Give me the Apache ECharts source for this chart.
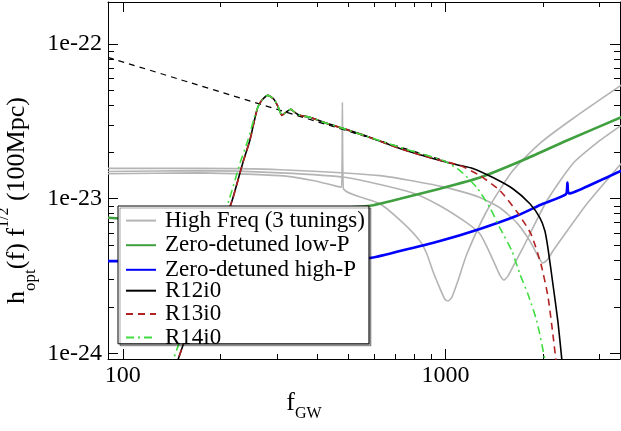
<!DOCTYPE html>
<html><head><meta charset="utf-8">
<script src="https://cdn.jsdelivr.net/npm/echarts@6/dist/echarts.min.js"></script>
<style>html,body{margin:0;padding:0;background:#fff}#c{width:621px;height:431px}</style>
</head><body><div id="c"></div>
<script>
// ---- axis ticks / labels ----
const xMajorTicks = [100, 1000];
const xTickLabels = ['100', '1000'];
const xMinorTicks = [200, 300, 400, 500, 600, 700, 800, 900, 2000, 3000];
const yMajorTicks = [1e-22, 1e-23, 1e-24];
const yTickLabels = ['1e-22', '1e-23', '1e-24'];
const yMinorTicks = [2e-24, 3e-24, 4e-24, 5e-24, 6e-24, 7e-24, 8e-24, 9e-24,
                     2e-23, 3e-23, 4e-23, 5e-23, 6e-23, 7e-23, 8e-23, 9e-23];
const X_MIN = 90, X_MAX = 3470;
const Y_MIN = 9.2e-25, Y_MAX = 1.87e-22;

// ---- series data: [f_GW (Hz), h_opt f^1/2] ----
const hfTuning1 = [[90,1.45e-23],[173,1.47e-23],[307,1.41e-23],[388,1.31e-23],[476,1.185e-23],[479,4.2e-23],[482,1.175e-23],[626,9.28e-24],[738,6.98e-24],[833,5.33e-24],[875,4.39e-24],[913,3.41e-24],[960,2.64e-24],[995,2.24e-24],[1017,2.18e-24],[1046,2.31e-24],[1092,2.94e-24],[1164,4.39e-24],[1343,8.36e-24],[1616,1.52e-23],[1960,2.28e-23],[2481,3.30e-23],[3500,5.42e-23]];
const hfTuning2 = [[90,1.50e-23],[173,1.52e-23],[307,1.47e-23],[494,1.37e-23],[792,1.09e-23],[960,9.01e-24],[1164,6.98e-24],[1277,5.93e-24],[1343,4.88e-24],[1421,3.78e-24],[1473,3.21e-24],[1516,2.98e-24],[1560,3.16e-24],[1639,3.84e-24],[1736,4.81e-24],[2060,9.70e-24],[2481,1.69e-23],[3008,2.38e-23],[3500,2.98e-23]];
const hfTuning3 = [[90,1.57e-23],[173,1.57e-23],[307,1.54e-23],[626,1.41e-23],[1009,1.18e-23],[1277,1.02e-23],[1473,8.74e-24],[1663,6.98e-24],[1825,5.33e-24],[1932,4.26e-24],[2002,3.84e-24],[2075,4.08e-24],[2150,4.59e-24],[2261,5.33e-24],[2741,9.28e-24],[3500,1.69e-23]];
const lowP = [[90,7.53e-24],[121,7.31e-24],[173,7.31e-24],[247,7.64e-24],[354,8.23e-24],[480,8.74e-24],[583,9.01e-24],[722,1.0e-23],[960,1.16e-23],[1277,1.37e-23],[1786,1.82e-23],[2376,2.38e-23],[3500,3.36e-23]];
const highP = [[90,3.95e-24],[173,3.95e-24],[354,4.02e-24],[583,4.14e-24],[722,4.59e-24],[960,5.33e-24],[1277,6.38e-24],[1663,7.76e-24],[2002,9.28e-24],[2359,1.07e-23],[2385,1.27e-23],[2411,1.08e-23],[2861,1.25e-23],[3500,1.52e-23]];
const powerLaw = [[90,8.2e-23],[1000,1.75e-23]];
const r12i0 = [[134,4.9e-25],[148,9.0e-25],[180,2.94e-24],[219,1.0e-23],[235.5,1.71e-23],[247.5,2.38e-23],[256.5,3.30e-23],[262,3.90e-23],[269.7,4.33e-23],[281.5,4.66e-23],[293.8,4.40e-23],[302.3,3.96e-23],[311.1,3.46e-23],[320.1,3.62e-23],[331.7,3.79e-23],[341.2,3.62e-23],[353.7,3.46e-23],[379.7,3.36e-23],[428.7,3.07e-23],[480.5,2.85e-23],[570.3,2.53e-23],[722,2.11e-23],[913,1.82e-23],[1084,1.66e-23],[1215,1.57e-23],[1402,1.37e-23],[1616,1.16e-23],[1825,9.28e-24],[1960,7.53e-24],[2031,6.19e-24],[2075,4.81e-24],[2150,2.81e-24],[2228,1.61e-24],[2293,9.0e-25],[2359,4.9e-25]];
const r13i0 = [[134,4.9e-25],[148,9.0e-25],[180,2.94e-24],[219,1.0e-23],[235.5,1.71e-23],[247.5,2.38e-23],[256.5,3.30e-23],[262,3.90e-23],[269.7,4.33e-23],[281.5,4.66e-23],[293.8,4.40e-23],[302.3,3.96e-23],[311.1,3.46e-23],[320.1,3.62e-23],[331.7,3.79e-23],[341.2,3.62e-23],[353.7,3.46e-23],[379.7,3.36e-23],[428.7,3.07e-23],[480.5,2.85e-23],[570.3,2.53e-23],[722,2.11e-23],[913,1.82e-23],[1108,1.64e-23],[1277,1.41e-23],[1473,1.13e-23],[1663,8.23e-24],[1838,5.93e-24],[1974,3.78e-24],[2075,2.34e-24],[2150,1.33e-24],[2197,9.0e-25],[2261,4.9e-25]];
const r14i0 = [[129,4.9e-25],[143,9.0e-25],[175,2.94e-24],[214,1.0e-23],[231,1.71e-23],[244,2.38e-23],[255,3.30e-23],[262,3.90e-23],[269.7,4.33e-23],[281.5,4.66e-23],[293.8,4.40e-23],[302.3,3.96e-23],[311.1,3.46e-23],[320.1,3.62e-23],[331.7,3.79e-23],[341.2,3.62e-23],[353.7,3.46e-23],[379.7,3.36e-23],[428.7,3.07e-23],[480.5,2.85e-23],[570.3,2.53e-23],[722,2.15e-23],[815,1.99e-23],[981,1.77e-23],[1108,1.52e-23],[1250,1.18e-23],[1372,8.74e-24],[1473,6.48e-24],[1605,4.59e-24],[1699,3.26e-24],[1799,2.42e-24],[1918,1.61e-24],[2031,9.0e-25],[2105,4.9e-25]];

const FONT = 'Liberation Serif';
// the y axis works in units of 1e-24 (strain values are too small for tick handling)
const H_UNIT = 1e-24;
const toUnit = v => v / H_UNIT;
const toAxis = data => data.map(p => [p[0], p[1] / H_UNIT]);

function labelFor(ticks, labels, conv) {
  return function (v) {
    for (let i = 0; i < ticks.length; i++) {
      if (Math.abs(Math.log10(conv(ticks[i])) - Math.log10(v)) < 1e-6) return labels[i];
    }
    return '';
  };
}

function xAx(pos, major, withLabels) {
  const a = {
    type: 'log', logBase: 10, min: X_MIN, max: X_MAX, position: pos,
    axisLine: { show: major, onZero: false, lineStyle: { color: '#000', width: 1 } },
    axisTick: { show: true, inside: true, length: major ? 10 : 5,
      customValues: major ? xMajorTicks : xMinorTicks, lineStyle: { color: '#000', width: 1 } },
    axisLabel: { show: false },
    splitLine: { show: false }, minorTick: { show: false }, minorSplitLine: { show: false }
  };
  if (withLabels) {
    a.axisLabel = { show: true, customValues: xMajorTicks, formatter: labelFor(xMajorTicks, xTickLabels, v => v),
      fontFamily: FONT, fontSize: 24, color: '#000', margin: 5 };
    a.name = '{b|f}{s|GW}';
    a.nameLocation = 'middle';
    a.nameGap = 31;
    a.nameMoveOverlap = false;
    a.nameTextStyle = {
      rich: {
        b: { fontFamily: FONT, fontSize: 26, color: '#000', lineHeight: 24, verticalAlign: 'top' },
        s: { fontFamily: FONT, fontSize: 16, color: '#000', lineHeight: 16, verticalAlign: 'top', padding: [16, 120, 0, 0] }
      }
    };
  }
  return a;
}
function yAx(pos, major, withLabels) {
  const a = {
    type: 'log', logBase: 10, min: toUnit(Y_MIN), max: toUnit(Y_MAX), position: pos,
    axisLine: { show: major, onZero: false, lineStyle: { color: '#000', width: 1 } },
    axisTick: { show: true, inside: true, length: major ? 10 : 6,
      customValues: (major ? yMajorTicks : yMinorTicks).map(toUnit), lineStyle: { color: '#000', width: 1 } },
    axisLabel: { show: false },
    splitLine: { show: false }, minorTick: { show: false }, minorSplitLine: { show: false }
  };
  if (withLabels) {
    a.axisLabel = { show: true, customValues: yMajorTicks.map(toUnit), formatter: labelFor(yMajorTicks, yTickLabels, toUnit),
      fontFamily: FONT, fontSize: 24, color: '#000', margin: 6 };
    a.name = '{b|h}{s|opt}{b|(f) f}{p|1/2}{e| (100Mpc)}';
    a.nameLocation = 'middle';
    a.nameRotate = 90;
    a.nameGap = 86;
    a.nameMoveOverlap = false;
    a.nameTextStyle = {
      rich: {
        b: { fontFamily: FONT, fontSize: 26, color: '#000', lineHeight: 26, verticalAlign: 'top', padding: [8, 0, 0, 0] },
        e: { fontFamily: FONT, fontSize: 26, color: '#000', lineHeight: 26, verticalAlign: 'top', padding: [8, 40, 0, 0] },
        s: { fontFamily: FONT, fontSize: 17, color: '#000', lineHeight: 17, verticalAlign: 'top', padding: [26, 0, 0, 0] },
        p: { fontFamily: FONT, fontSize: 16, color: '#000', lineHeight: 16, verticalAlign: 'top', padding: [0, 0, 0, 0] }
      }
    };
  }
  return a;
}

function line(name, data, color, width, type, z) {
  return {
    type: 'line', name: name, data: toAxis(data), xAxisIndex: 0, yAxisIndex: 0,
    symbol: 'none', showSymbol: false, silent: true, clip: true, z: z || 2,
    smooth: 0.2,
    lineStyle: { color: color, width: width, type: type || 'solid' },
    itemStyle: { color: color, opacity: 0 },
    emphasis: { disabled: true }
  };
}

const chart = echarts.init(document.getElementById('c'), null, { renderer: 'canvas' });
chart.setOption({
  animation: false,
  backgroundColor: '#fff',
  grid: { left: 108, right: 1, top: 2, bottom: 72, containLabel: false, outerBoundsMode: 'none' },
  xAxis: [xAx('bottom', true, true), xAx('bottom', false, false), xAx('top', true, false), xAx('top', false, false)],
  yAxis: [yAx('left', true, true), yAx('left', false, false), yAx('right', true, false), yAx('right', false, false)],
  legend: [
    {
      data: ['High Freq (3 tunings)', 'Zero-detuned low-P', 'Zero-detuned high-P'],
      orient: 'vertical', left: 118, top: 206, itemWidth: 30, itemHeight: 14, itemGap: 1.6,
      padding: [3.1, 4, 62.5, 7], backgroundColor: '#fff', borderColor: '#000', borderWidth: 1,
      shadowColor: 'rgba(0,0,0,0.35)', shadowOffsetX: 2, shadowOffsetY: 2, shadowBlur: 0,
      selectedMode: false, z: 10, itemStyle: { opacity: 0 },
      textStyle: { fontFamily: FONT, fontSize: 23, color: '#000', lineHeight: 22, padding: [0, 0, 0, 4] }
    },
    {
      data: ['R12i0', 'R13i0', 'R14i0'],
      orient: 'vertical', left: 118, top: 279.2, itemWidth: 30, itemHeight: 14, itemGap: 0.4,
      padding: [0, 0, 0, 7], selectedMode: false, z: 11, itemStyle: { opacity: 0 },
      textStyle: { fontFamily: FONT, fontSize: 23, color: '#000', lineHeight: 20, padding: [0, 0, 0, 4] }
    }
  ],
  series: [
    line('High Freq (3 tunings)', hfTuning1, '#b4b4b4', 1.6),
    line('High Freq (3 tunings)', hfTuning2, '#b4b4b4', 1.6),
    line('High Freq (3 tunings)', hfTuning3, '#b4b4b4', 1.6),
    line('Zero-detuned low-P', lowP, '#40a040', 2.6),
    line('Zero-detuned high-P', highP, '#0000ff', 2.6),
    line('fit', powerLaw, '#000000', 1.2, [6, 5]),
    line('R12i0', r12i0, '#000000', 1.6),
    line('R13i0', r13i0, '#b22222', 1.6, [7, 5]),
    line('R14i0', r14i0, '#40dd40', 1.6, [8, 4, 2, 4])
  ]
});
</script></body></html>
